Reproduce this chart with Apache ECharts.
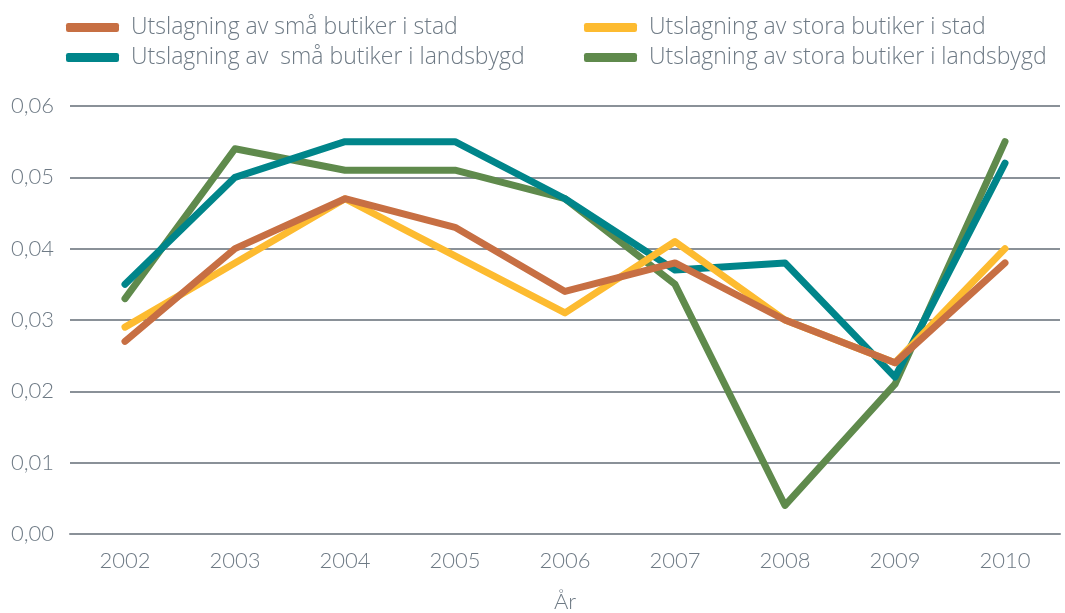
<!DOCTYPE html>
<html>
<head>
<meta charset="utf-8">
<script src="https://cdn.jsdelivr.net/npm/echarts@6/dist/echarts.min.js"></script>
<style>
  html, body { margin: 0; padding: 0; background: #fff; }
  #chart { width: 1065px; height: 613px; }
</style>
</head>
<body>
<div id="chart"></div>
<script>
const years = ['2002', '2003', '2004', '2005', '2006', '2007', '2008', '2009', '2010'];

const smaStad = [0.027, 0.040, 0.047, 0.043, 0.034, 0.038, 0.030, 0.024, 0.038];
const storaStad = [0.029, 0.038, 0.047, 0.039, 0.031, 0.041, 0.030, 0.024, 0.040];
const smaLand = [0.035, 0.050, 0.055, 0.055, 0.047, 0.037, 0.038, 0.022, 0.052];
const storaLand = [0.033, 0.054, 0.051, 0.051, 0.047, 0.035, 0.004, 0.021, 0.055];

const names = [
    'Utslagning av små butiker i stad',
    'Utslagning av stora butiker i stad',
    'Utslagning av  små butiker i landsbygd',
    'Utslagning av stora butiker i landsbygd'
];

const chart = echarts.init(document.getElementById('chart'));

const textColor = '#6E7A85';
const gridColor = '#8A9198';

function line(name, data, color) {
    return {
        name: name,
        type: 'line',
        data: data,
        symbol: 'none',
        lineStyle: { width: 7, color: color, cap: 'round', join: 'round' },
        itemStyle: { color: color }
    };
}

let legendText = {
    color: textColor,
    fontSize: 23,
    fontFamily: 'Open Sans',
    fontWeight: 300,
    padding: [0, 0, 0, 7]
};
let axisText = { color: textColor, fontSize: 22, fontFamily: 'Lato', fontWeight: 300 };

let option = {
    animation: false,
    legend: [{
        left: 61,
        top: 11,
        orient: 'vertical',
        itemWidth: 53,
        itemHeight: 9,
        itemGap: 7,
        icon: 'roundRect',
        textStyle: legendText,
        data: [names[0], names[2]]
    }, {
        left: 579,
        top: 11,
        orient: 'vertical',
        itemWidth: 53,
        itemHeight: 9,
        itemGap: 7,
        icon: 'roundRect',
        textStyle: legendText,
        data: [names[1], names[3]]
    }],
    grid: {
        left: 70,
        right: 5,
        top: 106,
        bottom: 79,
        outerBoundsMode: 'none'
    },
    xAxis: {
        type: 'category',
        data: years,
        boundaryGap: true,
        name: 'År',
        nameLocation: 'middle',
        nameGap: 57,
        nameTextStyle: axisText,
        axisLine: { show: true, lineStyle: { color: gridColor, width: 2 } },
        axisTick: { show: false },
        axisLabel: Object.assign({ margin: 16 }, axisText)
    },
    yAxis: {
        type: 'value',
        min: 0,
        max: 0.06,
        interval: 0.01,
        axisLine: { show: false },
        axisTick: { show: false },
        splitLine: { lineStyle: { color: gridColor, width: 2 } },
        axisLabel: Object.assign({
            margin: 16,
            formatter: function (v) { return v.toFixed(2).replace('.', ','); }
        }, axisText)
    },
    series: [
        line(names[3], storaLand, '#5F8A4C'),
        line(names[2], smaLand, '#00858A'),
        line(names[1], storaStad, '#FDBB30'),
        line(names[0], smaStad, '#C76F43')
    ]
};

chart.setOption(option);
</script>
</body>
</html>
